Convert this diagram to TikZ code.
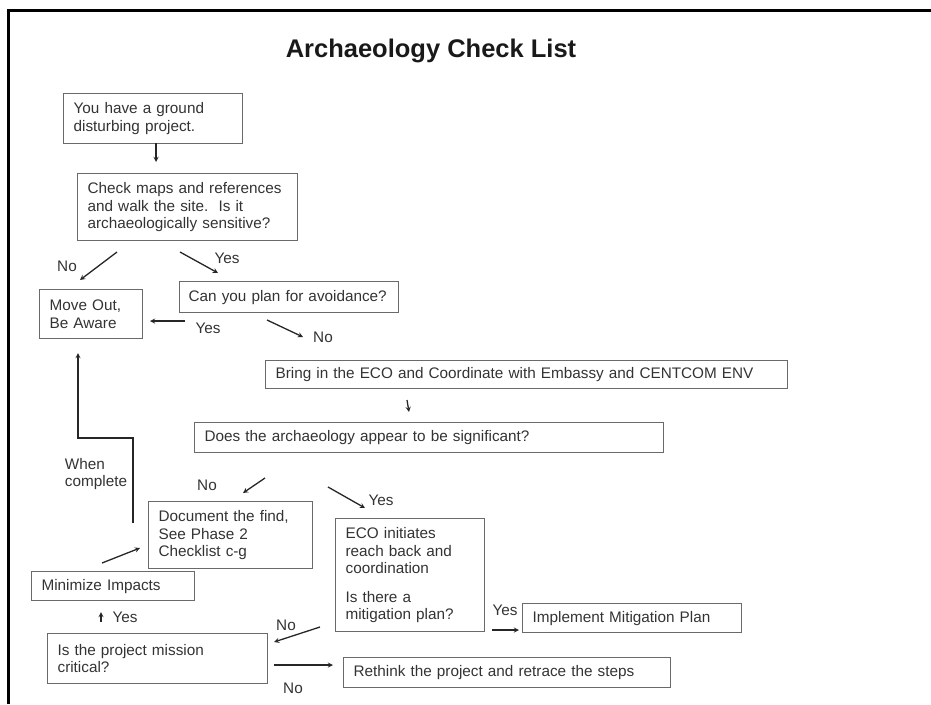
\documentclass[tikz,border=0pt]{standalone}
\usepackage{fontspec}
\setmainfont{Liberation Sans}
\usepackage{xcolor}

\definecolor{txtgray}{HTML}{333333}
\definecolor{boxgray}{HTML}{6A6A6A}

\tikzset{
  box/.style={draw=boxgray, line width=1.2pt, text=txtgray, align=left, anchor=north west, inner xsep=10pt, inner ysep=0pt},
  lbl/.style={text=txtgray, inner sep=0pt},
  arr/.style={-stealth, line width=1.3pt, black!85},
}

\begin{document}
\begin{tikzpicture}[x=1pt,y=-1pt,every node/.style={font=\fontsize{15.3}{17.5}\selectfont}]
	\useasboundingbox (0,0) rectangle (931,704);
	\draw[line width=3pt](931,10)--(8,10)--(8,704);
	\node[font=\fontsize{25.5}{30}\selectfont\bfseries, text=black!90] (title) at (431,51) {Archaeology Check List};

	% boxes
	\node[box, text width=159pt, minimum height=50pt] (ground) at (63,93) {You have a ground\\disturbing project.};
	\node[box, text width=200pt, minimum height=67pt] (check) at (77,173) {Check maps and references\\and walk the site.\ \ Is it\\archaeologically sensitive?};
	\node[box, text width=83pt, minimum height=49pt] (moveout) at (39,289) {Move Out,\\Be Aware};
	\node[box, inner xsep=9pt, text width=201pt, minimum height=31pt] (avoid) at (179,281) {Can you plan for avoidance?};
	\node[box, text width=502pt, minimum height=28pt] (eco) at (265,360) {Bring in the ECO and Coordinate with Embassy and CENTCOM ENV};
	\node[box, text width=449pt, minimum height=30pt] (signif) at (194,422) {Does the archaeology appear to be significant?};
	\node[box, text width=144pt, minimum height=67pt] (document) at (148,501) {Document the find,\\See Phase 2\\Checklist c-g};
	\node[box, text width=129pt, minimum height=113pt] (mitig) at (335,518) {ECO initiates\\reach back and\\coordination\\[11pt]Is there a\\mitigation plan?};
	\node[box, text width=143pt, minimum height=29pt] (minimize) at (31,571) {Minimize Impacts};
	\node[box, text width=200pt, minimum height=50pt] (critical) at (47,633) {Is the project mission\\critical?};
	\node[box, text width=199pt, minimum height=29pt] (implement) at (522,603) {Implement Mitigation Plan};
	\node[box, text width=307pt, minimum height=30pt] (rethink) at (343,657) {Rethink the project and retrace the steps};

	% arrow ends
	\coordinate (groundOut) at (156,143);  \coordinate (checkIn) at (156,162);
	\coordinate (sensNo) at (117,252);     \coordinate (moveNo) at (80,280);
	\coordinate (sensYes) at (180,252);    \coordinate (avoidIn) at (218,273);
	\coordinate (avoidYes) at (185,321);   \coordinate (moveYes) at (150,321);
	\coordinate (avoidNo) at (267,320);    \coordinate (ecoIn) at (303,337);
	\coordinate (ecoOut) at (407,400);     \coordinate (signifIn) at (409,412);
	\coordinate (signifNo) at (265,478);   \coordinate (docIn) at (243,493);
	\coordinate (signifYes) at (328,487);  \coordinate (mitigIn) at (365,508);
	\coordinate (docOut) at (133,523);     \coordinate (bendA) at (133,438);
	\coordinate (bendB) at (78,438);       \coordinate (moveDone) at (78,353);
	\coordinate (minOut) at (102,563);     \coordinate (docMin) at (140,548);
	\coordinate (critYes) at (101,622);    \coordinate (minIn) at (101,612);
	\coordinate (mitigNo) at (320,627);    \coordinate (critIn) at (274,642);
	\coordinate (critNo) at (274,665);     \coordinate (rethinkIn) at (333,665);
	\coordinate (mitigYes) at (492,630);   \coordinate (implIn) at (519,630);

	% connectors
	\draw[arr](groundOut)--(checkIn);
	\draw[arr](sensNo)--(moveNo);
	\draw[arr](sensYes)--(avoidIn);
	\draw[arr](avoidYes)--(moveYes);
	\draw[arr](avoidNo)--(ecoIn);
	\draw[arr](ecoOut)--(signifIn);
	\draw[arr](signifNo)--(docIn);
	\draw[arr](signifYes)--(mitigIn);
	\draw[arr](docOut)--(bendA)--(bendB)--(moveDone);
	\draw[arr](minOut)--(docMin);
	\draw[arr](critYes)--(minIn);
	\draw[arr](mitigNo)--(critIn);
	\draw[arr](critNo)--(rethinkIn);
	\draw[arr](mitigYes)--(implIn);

	% labels
	\node[lbl] (lNo1) at (67,266) {No};
	\node[lbl] (lYes1) at (227,258) {Yes};
	\node[lbl] (lYes2) at (208,328) {Yes};
	\node[lbl] (lNo2) at (323,337) {No};
	\node[lbl] (lNo3) at (207,485) {No};
	\node[lbl] (lYes3) at (381,500) {Yes};
	\node[lbl, align=left] (lDone) at (96,474) {When\\complete};
	\node[lbl] (lYes4) at (125,617) {Yes};
	\node[lbl] (lNo4) at (286,625) {No};
	\node[lbl] (lNo5) at (293,688) {No};
	\node[lbl] (lYes5) at (505,610) {Yes};
\end{tikzpicture}
\end{document}
